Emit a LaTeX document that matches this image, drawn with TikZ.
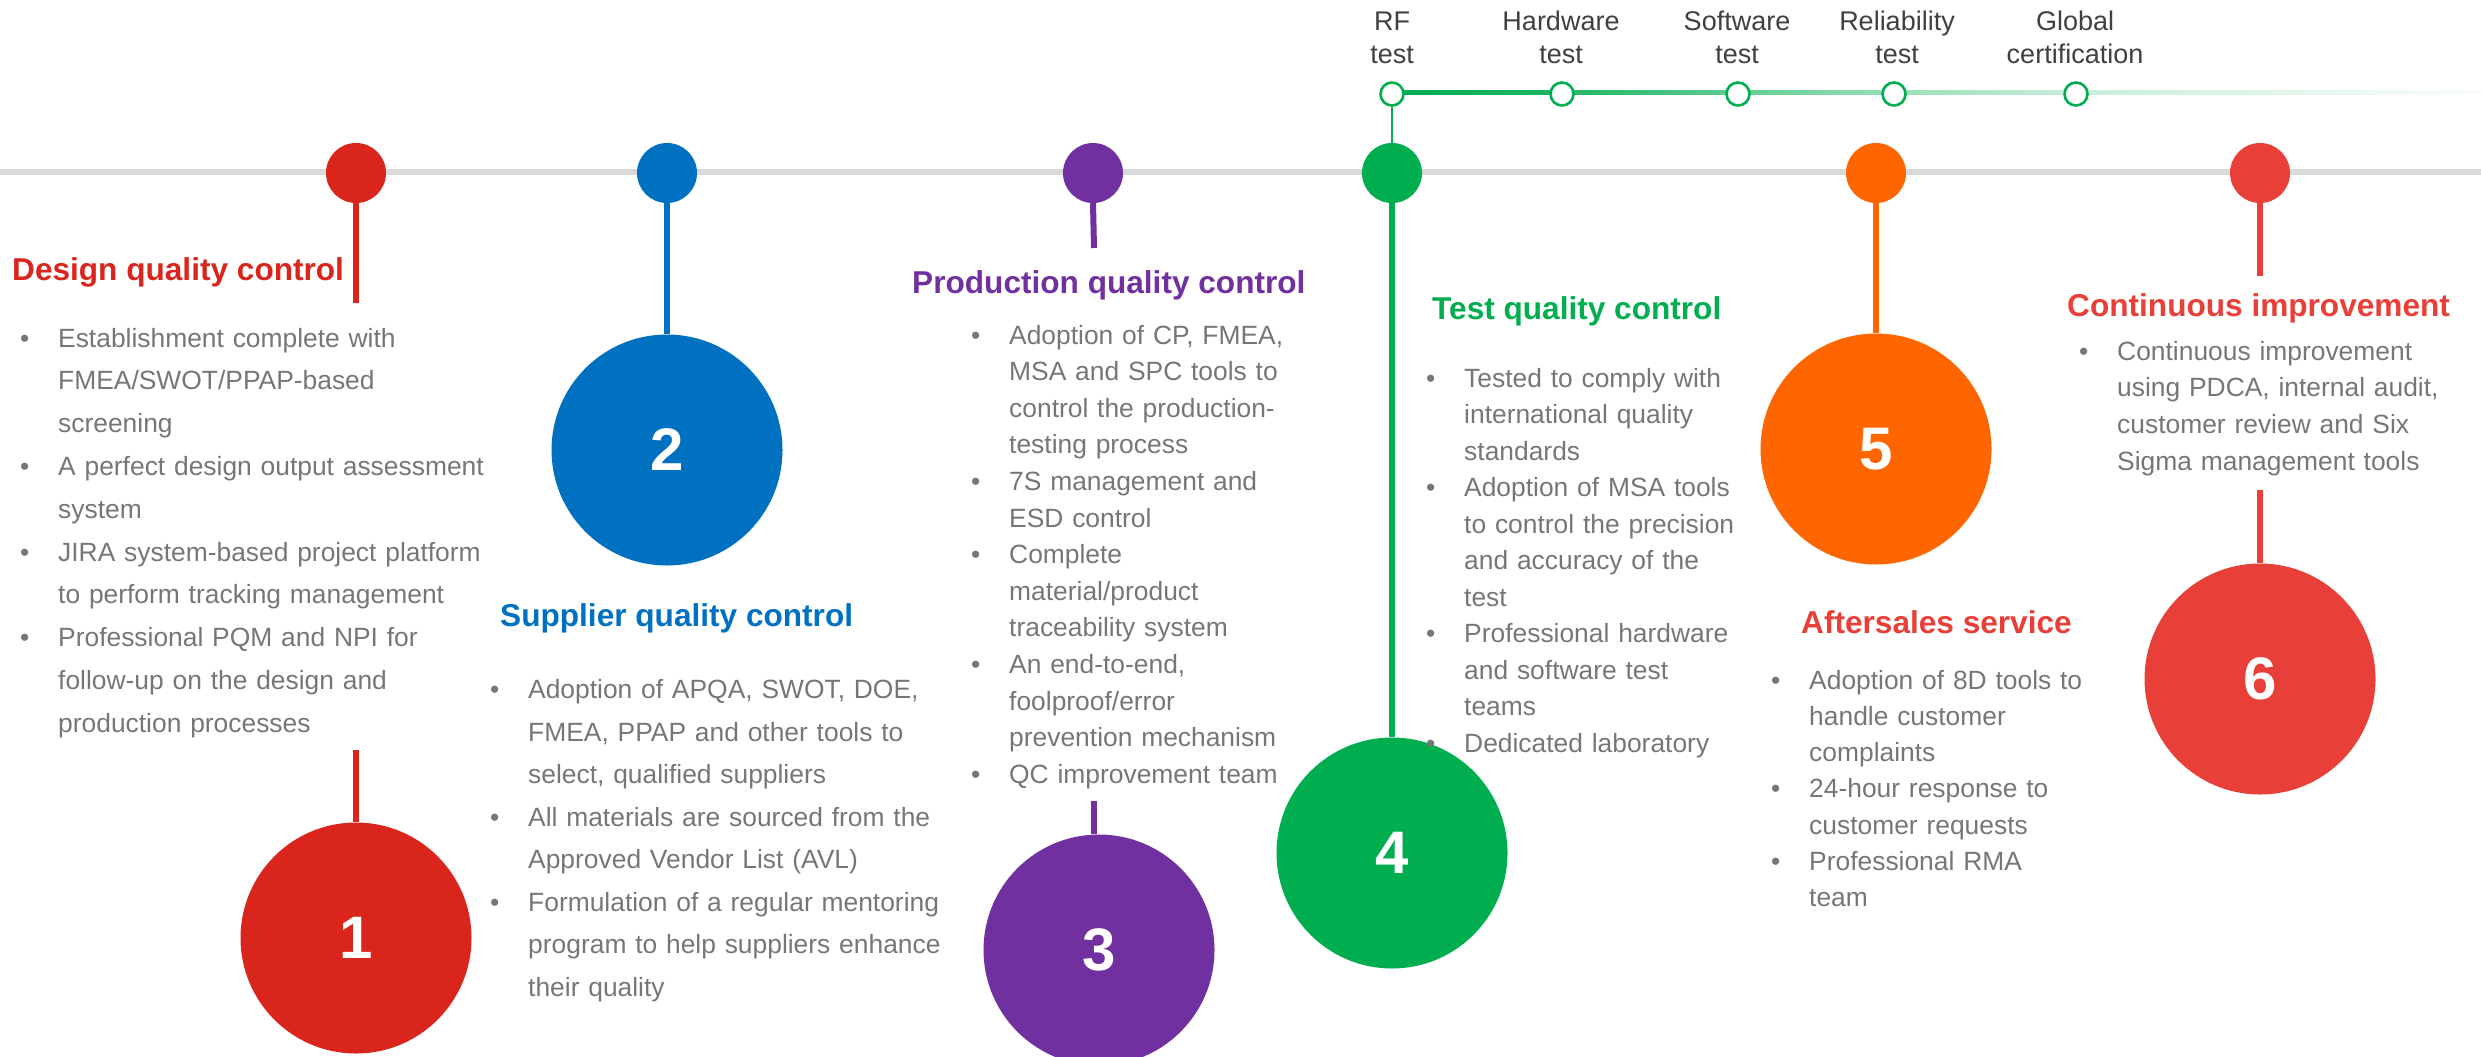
\documentclass[tikz,border=0pt]{standalone}
\usepackage{fontspec}
\setmainfont{Liberation Sans}
\usetikzlibrary{calc}
\hyphenpenalty=10000
\definecolor{cred}{HTML}{DA251D}
\definecolor{cblue}{HTML}{0070C0}
\definecolor{cpurple}{HTML}{7030A0}
\definecolor{cgreen}{HTML}{00AD4F}
\definecolor{corange}{HTML}{FF6600}
\definecolor{cred2}{HTML}{E84038}
\definecolor{lgray}{HTML}{D9D9D9}
\definecolor{bodygray}{HTML}{767676}
\definecolor{lblgray}{HTML}{404040}
\pgfdeclarehorizontalshading{gfade}{100bp}{color(0bp)=(cgreen); color(25bp)=(cgreen); color(33bp)=(cgreen!88); color(41bp)=(cgreen!62); color(48bp)=(cgreen!40); color(56bp)=(cgreen!22); color(75bp)=(cgreen!2); color(100bp)=(cgreen!2)}
\newcommand\itm{\makebox[38pt][l]{•}}
\newcommand\cnt{\hspace*{38pt}}
\begin{document}
\begin{tikzpicture}[x=1pt,y=-1pt,
  dot/.style={circle,fill=#1,minimum size=60pt,inner sep=0pt},
  big/.style={circle,fill=#1,minimum size=231pt,inner sep=0pt,text=white,font=\fontsize{60}{60}\selectfont\bfseries},
  ring/.style={circle,draw=cgreen,line width=2.6pt,fill=white,minimum size=23pt,inner sep=0pt},
  stem/.style={draw=#1,line width=6pt},
  ttl/.style={anchor=base west,inner sep=0pt,text=#1,font=\fontsize{31.6}{38}\selectfont\bfseries},
  body/.style={anchor=base west,inner sep=0pt,text=bodygray,text width=700pt,align=left,font=\fontsize{26.4}{#1}\selectfont},
  lbl/.style={anchor=base,inner sep=0pt,text=lblgray,text width=220pt,align=center,font=\fontsize{27}{32.6}\selectfont}]
\useasboundingbox (0,0) rectangle (2481,1057);
% main gray line
\coordinate (gl) at (0,172);
\coordinate (gr) at (2481,172);
\draw[lgray,line width=6pt] (gl) -- (gr);
% green test line
\shade[shading=gfade] (1392,90.5) rectangle (2481,94.5);
% stems
\coordinate (s1a) at (356,303);
\coordinate (s1b) at (356,750);
\coordinate (s3a) at (1094,248);
\coordinate (s3b) at (1094,801);
\coordinate (s6a) at (2260,276);
\coordinate (s6b) at (2260,490);
\node[big=cred] (c1) at (356,938) {1};
\node[big=cblue] (c2) at (667,450) {2};
\node[big=cpurple] (c3) at (1099,950) {3};
\node[big=cgreen] (c4) at (1392,853) {4};
\node[big=corange] (c5) at (1876,449) {5};
\node[big=cred2] (c6) at (2260,679) {6};
\node[dot=cred] (d1) at (356,173) {};
\node[dot=cblue] (d2) at (667,173) {};
\node[dot=cpurple] (d3) at (1093,173) {};
\node[dot=cgreen] (d4) at (1392,173) {};
\node[dot=corange] (d5) at (1876,173) {};
\node[dot=cred2] (d6) at (2260,173) {};
\draw[stem=cred] (d1.center) -- (s1a);
\draw[stem=cred] (s1b) -- (c1.north);
\draw[stem=cblue] (d2.south) -- (c2.north);
\draw[stem=cpurple] (d3.south) -- (s3a);
\draw[stem=cpurple] (s3b) -- (c3.north -| s3b);
\draw[stem=cgreen] (d4.south) -- (c4.north);
\draw[stem=corange] (d5.south) -- (c5.north);
\draw[stem=cred2] (d6.south) -- (s6a);
\draw[stem=cred2] (s6b) -- (c6.north);
% rings
\node[ring] (r1) at (1392,94) {};
\node[ring] (r2) at (1562,94) {};
\node[ring] (r3) at (1738,94) {};
\node[ring] (r4) at (1894,94) {};
\node[ring] (r5) at (2076,94) {};
\draw[cgreen,line width=1.8pt] (r1.south) -- (d4.north);
% top labels
\node[lbl] (l1) at (1392,30.7) {RF\\test};
\node[lbl] (l2) at (1561,30.7) {Hardware\\test};
\node[lbl] (l3) at (1737,30.7) {Software\\test};
\node[lbl] (l4) at (1897,30.7) {Reliability\\test};
\node[lbl] (l5) at (2075,30.7) {Global\\certification};
% titles
\node[ttl=cred] (t1) at (12,280) {Design quality control};
\node[ttl=cblue] (t2) at (500,626) {Supplier quality control};
\node[ttl=cpurple] (t3) at (912,293) {Production quality control};
\node[ttl=cgreen] (t4) at (1432,319) {Test quality control};
\node[ttl=cred2] (t5) at (1801,633) {Aftersales service};
\node[ttl=cred2] (t6) at (2067,316) {Continuous improvement};
% bodies
\node[body=42.8] (b1) at (20,347) {\itm Establishment complete with\\
\cnt FMEA/SWOT/PPAP-based\\
\cnt screening\\
\itm A perfect design output assessment\\
\cnt system\\
\itm JIRA system-based project platform\\
\cnt to perform tracking management\\
\itm Professional PQM and NPI for\\
\cnt follow-up on the design and\\
\cnt production processes};
\node[body=42.5] (b2) at (490,698.6) {\itm Adoption of APQA, SWOT, DOE,\\
\cnt FMEA, PPAP and other tools to\\
\cnt select, qualified suppliers\\
\itm All materials are sourced from the\\
\cnt Approved Vendor List (AVL)\\
\itm Formulation of a regular mentoring\\
\cnt program to help suppliers enhance\\
\cnt their quality};
\node[body=36.6] (b3) at (971,344) {\itm Adoption of CP, FMEA,\\
\cnt MSA and SPC tools to\\
\cnt control the production-\\
\cnt testing process\\
\itm 7S management and\\
\cnt ESD control\\
\itm Complete\\
\cnt material/product\\
\cnt traceability system\\
\itm An end-to-end,\\
\cnt foolproof/error\\
\cnt prevention mechanism\\
\itm QC improvement team};
\node[body=36.5] (b4) at (1426,387) {\itm Tested to comply with\\
\cnt international quality\\
\cnt standards\\
\itm Adoption of MSA tools\\
\cnt to control the precision\\
\cnt and accuracy of the\\
\cnt test\\
\itm Professional hardware\\
\cnt and software test\\
\cnt teams\\
\itm Dedicated laboratory};
\node[body=36.3] (b5) at (1771,689) {\itm Adoption of 8D tools to\\
\cnt handle customer\\
\cnt complaints\\
\itm 24-hour response to\\
\cnt customer requests\\
\itm Professional RMA\\
\cnt team};
\node[body=36.7] (b6) at (2079,360) {\itm Continuous improvement\\
\cnt using PDCA, internal audit,\\
\cnt customer review and Six\\
\cnt Sigma management tools};
\end{tikzpicture}
\end{document}
